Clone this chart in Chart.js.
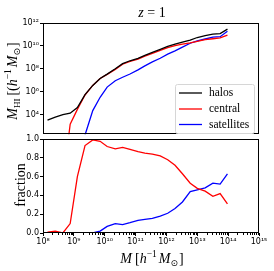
<!DOCTYPE html>
<html>
<head>
<meta charset="utf-8">
<script src="https://cdn.jsdelivr.net/npm/chart.js@4"></script>
<style>
  html, body { margin: 0; padding: 0; background: #fff; }
  #wrap { position: relative; width: 274px; height: 271px; overflow: hidden; }
  #wrap canvas { position: absolute; left: 0; }
  #topChart { top: 0; }
  #bottomChart { top: 130px; }
</style>
</head>
<body>
<div id="wrap">
  <canvas id="topChart" width="274" height="140"></canvas>
  <canvas id="bottomChart" width="274" height="141"></canvas>
</div>
<script>
// halo mass bins [h^-1 Msun]
const massBins = [1.4e8, 2.5e8, 4.4e8, 7.6e8, 1.3e9, 2.3e9, 4.1e9, 7.1e9, 1.2e10, 2.2e10,
                  3.8e10, 6.6e10, 1.2e11, 2.0e11, 3.5e11, 6.3e11, 1.1e12, 1.9e12, 3.3e12, 5.9e12,
                  1.0e13, 1.8e13, 3.2e13, 5.5e13, 9.5e13];

// HI mass [h^-1 Msun]
const halosHI = [3.3e3, 6.0e3, 1.0e4, 1.3e4, 4.0e4, 5.5e5, 3.5e6, 1.4e7, 3.4e7, 1.0e8,
                 2.8e8, 5.0e8, 8.1e8, 1.5e9, 2.7e9, 4.9e9, 8.9e9, 1.4e10, 2.1e10, 3.2e10,
                 5.4e10, 7.9e10, 1.07e11, 1.17e11, 2.9e11];
const centralHI = [3.2e1, 1.1e2, 1.0e-2, 1.4e3, 2.8e4, 5.1e5, 3.5e6, 1.4e7, 3.2e7, 8.9e7,
                   2.5e8, 4.5e8, 7.1e8, 1.26e9, 2.2e9, 4.0e9, 7.1e9, 1.07e10, 1.4e10, 1.8e10,
                   2.5e10, 3.5e10, 4.2e10, 5.1e10, 8.9e10];
const satellitesHI = [null, null, null, null, 1.0e0, 1.6e2, 2.2e4, 3.2e5, 2.5e6, 8.9e6,
                      1.8e7, 3.5e7, 7.9e7, 1.8e8, 4.0e8, 8.3e8, 1.9e9, 3.7e9, 7.9e9, 1.7e10,
                      2.8e10, 4.0e10, 5.8e10, 6.3e10, 1.9e11];

// fraction of HI
const centralFrac = [0.01, 0.02, 0.0, 0.10, 0.60, 0.93, 0.99, 0.975, 0.92, 0.895,
                     0.91, 0.89, 0.865, 0.85, 0.84, 0.82, 0.78, 0.72, 0.63, 0.53,
                     0.475, 0.445, 0.39, 0.42, 0.31];
const satellitesFrac = [0, 0, 0, 0, 0, 0, 0, 0.02, 0.07, 0.10,
                        0.09, 0.11, 0.135, 0.145, 0.155, 0.18, 0.21, 0.26, 0.33, 0.44,
                        0.46, 0.48, 0.53, 0.52, 0.63];

const seriesNames = ["halos", "central", "satellites"];
const seriesColors = ["#000000", "#ff0000", "#0000ff"];

const hiTicks = [1e4, 1e6, 1e8, 1e10, 1e12];
const massTicks = [1e8, 1e9, 1e10, 1e11, 1e12, 1e13, 1e14, 1e15];
const fracTicks = [0, 0.2, 0.4, 0.6, 0.8, 1.0];

const SERIF = "'Liberation Serif', 'DejaVu Serif', serif";
const tickFont = { family: "'DejaVu Sans', sans-serif", size: 8 };
const SUP = { "0": "⁰", "1": "¹", "2": "²", "3": "³", "4": "⁴", "5": "⁵", "6": "⁶", "7": "⁷", "8": "⁸", "9": "⁹", "-": "⁻" };

function powLabel(v) {
    const e = Math.round(Math.log10(v));
    return "10" + String(e).split("").map(c => SUP[c]).join("");
}

function points(ys) {
    return massBins.map((m, i) => ({ x: m, y: ys[i] }));
}

// draws a row of text pieces (italic, sub/superscripts), centred on x
function drawRuns(ctx, parts, x, y) {
    let total = 0;
    parts.forEach(p => { ctx.font = p.f; p.w = ctx.measureText(p.t).width; total += p.w + (p.gap || 0); });
    let cx = x - total / 2;
    ctx.textBaseline = "alphabetic";
    ctx.textAlign = "left";
    parts.forEach(p => {
        ctx.font = p.f;
        ctx.fillText(p.t, cx, y + (p.dy || 0));
        cx += p.w + (p.gap || 0);
    });
}

// matplotlib-like frame, minor ticks and annotations
const framePlugin = {
    id: "frame",
    afterDraw(chart, args, opts) {
        const ctx = chart.ctx;
        const a = chart.chartArea;
        ctx.save();
        ctx.strokeStyle = "#000";
        ctx.lineWidth = 1;
        ctx.strokeRect(Math.round(a.left) + 0.5, Math.round(a.top) + 0.5,
                       Math.round(a.right - a.left) - 1, Math.round(a.bottom - a.top) - 1);

        if (opts.minorX) {
            const xs = chart.scales.x;
            for (let d = 8; d < 15; d++) {
                for (let k = 2; k <= 9; k++) {
                    const px = Math.round(xs.getPixelForValue(k * Math.pow(10, d))) + 0.5;
                    ctx.beginPath();
                    ctx.moveTo(px, a.bottom);
                    ctx.lineTo(px, a.bottom + 2);
                    ctx.stroke();
                }
            }
        }
        ctx.fillStyle = "#000";
        if (opts.draw) opts.draw(ctx, a);
        ctx.restore();
    }
};

function axisCommon() {
    return {
        grid: { drawOnChartArea: false, drawTicks: true, tickLength: 3, color: "#000", tickWidth: 1 },
        border: { display: false },
        ticks: { font: tickFont, color: "#000", padding: 1, maxRotation: 0, autoSkip: false }
    };
}

function makeDataset(label, ys, color) {
    return {
        label: label,
        data: points(ys),
        borderColor: color,
        borderWidth: 1.3,
        pointRadius: 0,
        tension: 0,
        fill: false,
        spanGaps: false
    };
}

// upper panel: HI mass
const topY = axisCommon();
new Chart(document.getElementById("topChart"), {
    type: "line",
    data: {
        datasets: [
            makeDataset(seriesNames[0], halosHI, seriesColors[0]),
            makeDataset(seriesNames[1], centralHI, seriesColors[1]),
            makeDataset(seriesNames[2], satellitesHI, seriesColors[2])
        ]
    },
    options: {
        responsive: false,
        animation: false,
        layout: { padding: { top: 23, right: 15, bottom: 1, left: 0 } },
        plugins: {
            legend: { display: false },
            tooltip: { enabled: false },
            frame: {
                draw(ctx, a) {
                    // title
                    drawRuns(ctx, [
                        { t: "z", f: "italic 14px " + SERIF },
                        { t: " = 1", f: "14px " + SERIF }
                    ], 152, 17);
                    // y label
                    ctx.save();
                    ctx.translate(17, 81);
                    ctx.rotate(-Math.PI / 2);
                    drawRuns(ctx, [
                        { t: "M", f: "italic 14px " + SERIF },
                        { t: "HI", f: "9px " + SERIF, dy: 3, gap: 3 },
                        { t: "[(", f: "14px " + SERIF },
                        { t: "h", f: "italic 14px " + SERIF },
                        { t: "−1", f: "9.5px " + SERIF, dy: -6, gap: 2 },
                        { t: "M", f: "italic 14px " + SERIF },
                        { t: "⊙", f: "9px 'DejaVu Sans'", dy: 3, gap: 1 },
                        { t: "]", f: "14px " + SERIF }
                    ], 0, 0);
                    ctx.restore();
                    // legend box
                    const bx = 175, by = 84, bw = 79, bh = 49;
                    ctx.fillStyle = "rgba(255,255,255,0.85)";
                    ctx.strokeStyle = "#d6d6d6";
                    ctx.lineWidth = 1;
                    ctx.beginPath();
                    ctx.roundRect(bx + 0.5, by + 0.5, bw, bh, 2);
                    ctx.fill();
                    ctx.stroke();
                    const rows = [93, 109, 124.5];
                    seriesNames.forEach((n, i) => {
                        ctx.strokeStyle = seriesColors[i];
                        ctx.lineWidth = 1.3;
                        ctx.beginPath();
                        ctx.moveTo(179, rows[i]);
                        ctx.lineTo(202, rows[i]);
                        ctx.stroke();
                        ctx.fillStyle = "#000";
                        ctx.font = "11.5px " + SERIF;
                        ctx.textAlign = "left";
                        ctx.textBaseline = "middle";
                        ctx.fillText(n, 209, rows[i]);
                    });
                }
            }
        },
        scales: {
            x: { type: "logarithmic", display: false, min: 1e8, max: 1e15 },
            y: Object.assign(topY, {
                type: "logarithmic",
                min: 190,
                max: 1e12,
                afterFit(s) { s.width = 43; },
                afterBuildTicks(s) { s.ticks = hiTicks.map(v => ({ value: v })); },
                ticks: Object.assign(topY.ticks, { callback: v => powLabel(v) })
            })
        }
    },
    plugins: [framePlugin]
});

// lower panel: fractions
const botX = axisCommon();
const botY = axisCommon();
new Chart(document.getElementById("bottomChart"), {
    type: "line",
    data: {
        datasets: [
            makeDataset(seriesNames[1], centralFrac, seriesColors[1]),
            makeDataset(seriesNames[2], satellitesFrac, seriesColors[2])
        ]
    },
    options: {
        responsive: false,
        animation: false,
        layout: { padding: { top: 9, right: 15, bottom: 0, left: 0 } },
        plugins: {
            legend: { display: false },
            tooltip: { enabled: false },
            frame: {
                minorX: true,
                draw(ctx, a) {
                    // x label
                    drawRuns(ctx, [
                        { t: "M", f: "italic 14px " + SERIF, gap: 3 },
                        { t: "[", f: "14px " + SERIF },
                        { t: "h", f: "italic 14px " + SERIF },
                        { t: "−1", f: "9.5px " + SERIF, dy: -6, gap: 2 },
                        { t: "M", f: "italic 14px " + SERIF },
                        { t: "⊙", f: "9px 'DejaVu Sans'", dy: 3, gap: 1 },
                        { t: "]", f: "14px " + SERIF }
                    ], 152, 133);
                    // y label
                    ctx.save();
                    ctx.translate(25, 55);
                    ctx.rotate(-Math.PI / 2);
                    drawRuns(ctx, [{ t: "fraction", f: "14px " + SERIF }], 0, 0);
                    ctx.restore();
                }
            }
        },
        scales: {
            x: Object.assign(botX, {
                type: "logarithmic",
                min: 1e8,
                max: 1e15,
                afterFit(s) { s.height = 38; },
                afterBuildTicks(s) { s.ticks = massTicks.map(v => ({ value: v })); },
                ticks: Object.assign(botX.ticks, { callback: v => powLabel(v) })
            }),
            y: Object.assign(botY, {
                type: "linear",
                min: 0,
                max: 1,
                afterFit(s) { s.width = 43; },
                afterBuildTicks(s) { s.ticks = fracTicks.map(v => ({ value: v })); },
                ticks: Object.assign(botY.ticks, { callback: v => v.toFixed(1) })
            })
        }
    },
    plugins: [framePlugin]
});
</script>
</body>
</html>
